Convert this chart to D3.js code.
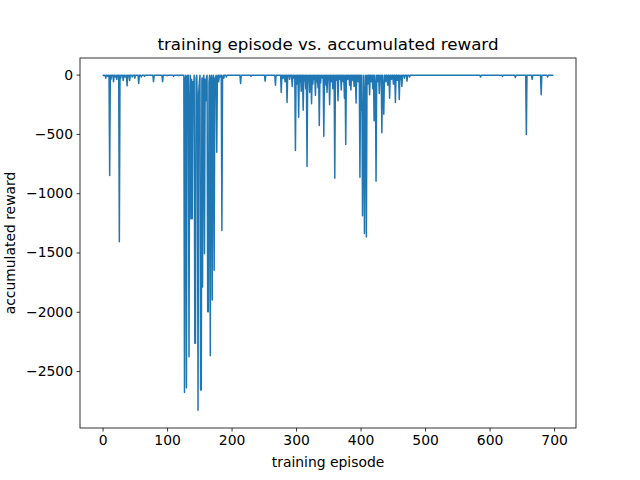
<!DOCTYPE html>
<html><head><meta charset="utf-8">
<script src="https://cdn.jsdelivr.net/npm/d3@7"></script>
<style>body{margin:0;background:#fff}svg text{font-family:"DejaVu Sans",sans-serif}</style>
</head><body><svg id="c" width="640" height="480"></svg>
<script>
const episodeCount = 700;
const baselineReward = -5;
// [episode, reward] for episodes that differ from baseline
const spikes = [
[2,-10],[5,-30],[8,-15],[11,-850],[13,-40],[17,-60],[20,-20],[22,-40],[26,-1410],[28,-30],[32,-50],[35,-20],[38,-95],[42,-50],[46,-20],[50,-30],[56,-75],[60,-20],[65,-15],[79,-60],[93,-60],[100,-10],[110,-15],[118,-10],
[127,-2680],[128,-40],[130,-2640],[131,-20],[134,-2380],[135,-300],[137,-1215],[138,-40],[139,-1215],[140,-60],[141,-170],[143,-2265],[144,-2265],[145,-30],[147,-300],[148,-2830],[149,-160],[150,-60],[152,-2660],[153,-2660],[154,-30],[155,-1790],[156,-30],[158,-1510],[159,-40],[160,-220],[161,-30],[163,-2000],[164,-2000],[165,-60],[167,-2370],[168,-30],[170,-1900],[171,-40],[173,-1650],[174,-30],[175,-30],[177,-655],[178,-20],[180,-60],[182,-20],[185,-1315],[186,-20],[188,-30],[192,-20],
[214,-75],[230,-15],[252,-55],[268,-90],[277,-150],[280,-30],[283,-60],[286,-235],[290,-40],[294,-100],[297,-30],[299,-640],[301,-80],[304,-360],[306,-60],[308,-140],[311,-300],[313,-50],[315,-120],[317,-775],[319,-40],[321,-150],[324,-245],[326,-80],[328,-40],[330,-175],[332,-60],[334,-110],[336,-430],[338,-70],[341,-30],[343,-520],[345,-90],[348,-150],[350,-40],[352,-255],[355,-60],[357,-120],[360,-875],[362,-50],[365,-220],[368,-40],[370,-130],[373,-60],[375,-200],[377,-590],[380,-40],[383,-90],[385,-130],[388,-50],[390,-100],[393,-240],[396,-60],[399,-865],[401,-300],[403,-1190],[404,-500],[406,-1340],[407,-200],[409,-1370],[411,-80],[414,-170],[417,-60],[419,-120],[421,-390],[423,-80],[424,-900],[426,-60],[429,-160],[431,-50],[433,-490],[435,-120],[436,-335],[439,-60],[442,-90],[445,-200],[448,-40],[451,-80],[454,-235],[457,-50],[460,-210],[462,-40],[464,-100],[468,-30],[472,-55],[476,-20],
[586,-20],[620,-15],[640,-25],[657,-505],[666,-40],[680,-170],[690,-20]
];
const xTicks = [0,100,200,300,400,500,600,700];
const yTicks = [0,-500,-1000,-1500,-2000,-2500];

const spikeMap = new Map(spikes);
const data = d3.range(episodeCount).map(i => [i, spikeMap.has(i) ? spikeMap.get(i) : baselineReward]);

const svg = d3.select("#c");
const L=80,R=576,T=58,B=428;
const x = d3.scaleLinear().domain([-35,734]).range([L,R]);
const y = d3.scaleLinear().domain([-2980,140]).range([B,T]);

svg.append("path").datum(data)
  .attr("d", d3.line().x(d=>x(d[0])).y(d=>y(d[1])))
  .attr("fill","none").attr("stroke","#1f77b4").attr("stroke-width",1.5).attr("stroke-linejoin","round");

const xa = svg.append("g").attr("transform",`translate(0,${B})`)
  .call(d3.axisBottom(x).tickValues(xTicks).tickSize(3.5).tickPadding(3.5).tickFormat(d3.format("d")));
const ya = svg.append("g").attr("transform",`translate(${L},0)`)
  .call(d3.axisLeft(y).tickValues(yTicks).tickSize(3.5).tickPadding(3.5).tickFormat(d=>d<0?"\u2212"+Math.abs(d):d));
[xa,ya].forEach(a=>{a.select(".domain").remove();a.selectAll("text").attr("font-size",13.9).attr("fill","#000");a.selectAll("line").attr("stroke","#000").attr("stroke-width",0.8);});
svg.append("rect").attr("x",L).attr("y",T).attr("width",R-L).attr("height",B-T).attr("fill","none").attr("stroke","#000").attr("stroke-width",0.8);

svg.append("text").attr("x",(L+R)/2).attr("y",T-8).attr("text-anchor","middle").attr("font-size",16.7).text("training episode vs. accumulated reward");
svg.append("text").attr("x",(L+R)/2).attr("y",467).attr("text-anchor","middle").attr("font-size",13.9).text("training episode");
svg.append("text").attr("transform",`translate(15,${(T+B)/2}) rotate(-90)`).attr("text-anchor","middle").attr("font-size",13.9).text("accumulated reward");
</script></body></html>
